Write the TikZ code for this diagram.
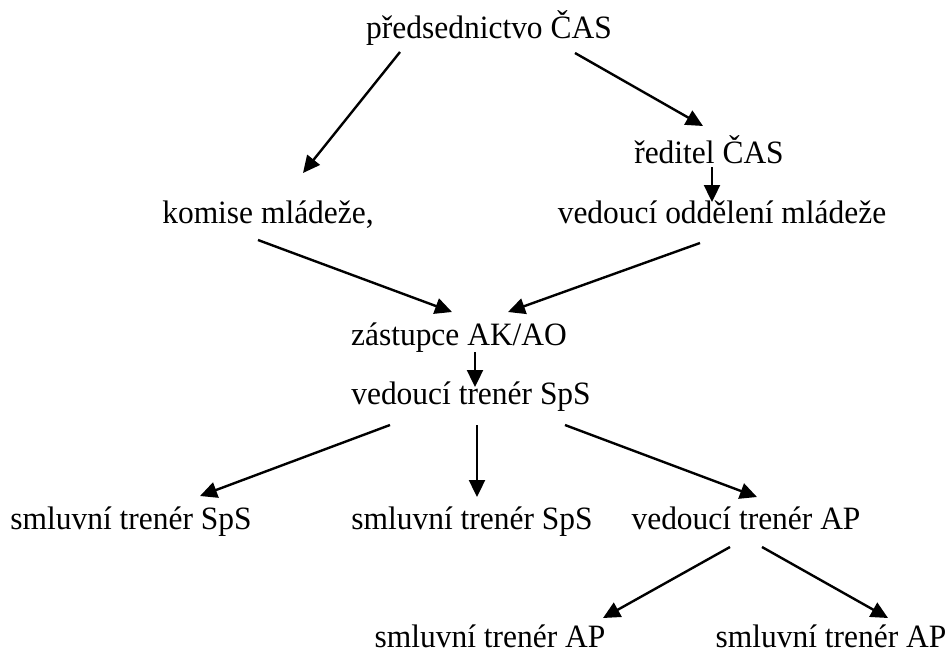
\documentclass[tikz,border=0pt]{standalone}
\usepackage{fontspec}
\setmainfont{Liberation Serif}[FakeStretch=0.965]
\usetikzlibrary{arrows.meta}

\begin{document}
\begin{tikzpicture}[x=0.5pt,y=-0.5pt,
    lbl/.style={anchor=base,inner sep=0pt,font=\fontsize{16.3}{19}\selectfont},
    >={Triangle[length=8.5pt,width=8pt]},line width=1.2pt]
  \useasboundingbox (0,0) rectangle (949,653);
  \node[lbl] (pred) at (489,39) {předsednictvo ČAS};
  \node[lbl] (red) at (709,163) {ředitel ČAS};
  \node[lbl] (kom) at (268,223) {komise mládeže,};
  \node[lbl] (odd) at (722,223) {vedoucí oddělení mládeže};
  \node[lbl] (zas) at (459,345) {zástupce AK/AO};
  \node[lbl] (vts) at (471,404) {vedoucí trenér SpS};
  \node[lbl] (st1) at (131,529) {smluvní trenér SpS};
  \node[lbl] (st2) at (472,529) {smluvní trenér SpS};
  \node[lbl] (vap) at (746,529) {vedoucí trenér AP};
  \node[lbl] (sa1) at (490,647) {smluvní trenér AP};
  \node[lbl] (sa2) at (831,647) {smluvní trenér AP};
  % arrow ends
  \coordinate (pred1) at (400,52);  \coordinate (kom0) at (303,173);
  \coordinate (pred2) at (575,53);  \coordinate (red0) at (703,126);
  \coordinate (red1) at (712,167);  \coordinate (odd0) at (712,202);
  \coordinate (kom1) at (258,240);  \coordinate (zas0) at (452,312);
  \coordinate (odd1) at (700,243);  \coordinate (zas00) at (508,312);
  \coordinate (zas1) at (475,352);  \coordinate (vts0) at (475,387);
  \coordinate (vts1) at (390,425);  \coordinate (st10) at (200,496);
  \coordinate (vts2) at (477,425);  \coordinate (st20) at (477,497);
  \coordinate (vts3) at (565,425);  \coordinate (vap0) at (757,497);
  \coordinate (vap1) at (730,547);  \coordinate (sa10) at (603,618);
  \coordinate (vap2) at (762,547);  \coordinate (sa20) at (888,618);
  \draw[->] (pred1) -- (kom0);
  \draw[->] (pred2) -- (red0);
  \draw[->] (red1) -- (odd0);
  \draw[->] (kom1) -- (zas0);
  \draw[->] (odd1) -- (zas00);
  \draw[->] (zas1) -- (vts0);
  \draw[->] (vts1) -- (st10);
  \draw[->] (vts2) -- (st20);
  \draw[->] (vts3) -- (vap0);
  \draw[->] (vap1) -- (sa10);
  \draw[->] (vap2) -- (sa20);
\end{tikzpicture}
\end{document}
